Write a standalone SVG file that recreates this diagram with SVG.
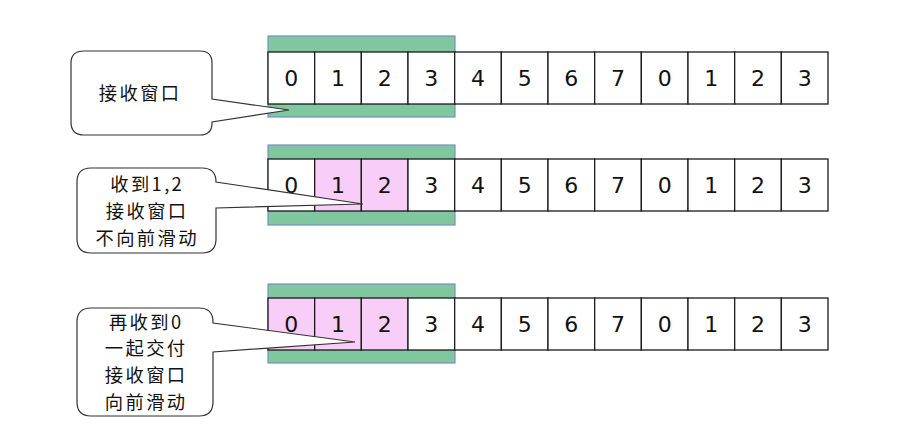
<svg xmlns="http://www.w3.org/2000/svg" width="906" height="444" viewBox="0 0 906 444">
<style>
.win{fill:#80c69e;stroke:#7b8fc4;stroke-width:1.2}
.cell{fill:#ffffff;stroke:#1a1a1a;stroke-width:1.3}
.pk{fill:#f8cdf8}
.num{font-family:"DejaVu Sans","Liberation Sans",sans-serif;font-size:22px;fill:#111;text-anchor:middle;dominant-baseline:central}
.call{fill:#ffffff;stroke:#333;stroke-width:1.2}
.lbl{font-family:"Noto Sans CJK SC","Noto Sans",sans-serif;font-size:18.3px;letter-spacing:2.4px;fill:#111;text-anchor:middle}
</style>
<rect width="906" height="444" fill="#ffffff"/>
<g id="row1">
<rect class="win" x="268" y="36" width="187" height="81"/>
<rect class="cell" x="268" y="52" width="46.67" height="52"/>
<rect class="cell" x="314.67" y="52" width="46.67" height="52"/>
<rect class="cell" x="361.33" y="52" width="46.67" height="52"/>
<rect class="cell" x="408" y="52" width="46.67" height="52"/>
<rect class="cell" x="454.67" y="52" width="46.67" height="52"/>
<rect class="cell" x="501.33" y="52" width="46.67" height="52"/>
<rect class="cell" x="548" y="52" width="46.67" height="52"/>
<rect class="cell" x="594.67" y="52" width="46.67" height="52"/>
<rect class="cell" x="641.33" y="52" width="46.67" height="52"/>
<rect class="cell" x="688" y="52" width="46.67" height="52"/>
<rect class="cell" x="734.67" y="52" width="46.67" height="52"/>
<rect class="cell" x="781.33" y="52" width="46.67" height="52"/>
<text class="num" x="291.3" y="78">0</text>
<text class="num" x="338" y="78">1</text>
<text class="num" x="384.7" y="78">2</text>
<text class="num" x="431.3" y="78">3</text>
<text class="num" x="478" y="78">4</text>
<text class="num" x="524.7" y="78">5</text>
<text class="num" x="571.3" y="78">6</text>
<text class="num" x="618" y="78">7</text>
<text class="num" x="664.7" y="78">0</text>
<text class="num" x="711.3" y="78">1</text>
<text class="num" x="758" y="78">2</text>
<text class="num" x="804.7" y="78">3</text>
</g>
<g id="row2">
<rect class="win" x="268" y="145" width="187" height="80"/>
<rect class="cell" x="268" y="159" width="46.67" height="52"/>
<rect class="cell pk" x="314.67" y="159" width="46.67" height="52"/>
<rect class="cell pk" x="361.33" y="159" width="46.67" height="52"/>
<rect class="cell" x="408" y="159" width="46.67" height="52"/>
<rect class="cell" x="454.67" y="159" width="46.67" height="52"/>
<rect class="cell" x="501.33" y="159" width="46.67" height="52"/>
<rect class="cell" x="548" y="159" width="46.67" height="52"/>
<rect class="cell" x="594.67" y="159" width="46.67" height="52"/>
<rect class="cell" x="641.33" y="159" width="46.67" height="52"/>
<rect class="cell" x="688" y="159" width="46.67" height="52"/>
<rect class="cell" x="734.67" y="159" width="46.67" height="52"/>
<rect class="cell" x="781.33" y="159" width="46.67" height="52"/>
<text class="num" x="291.3" y="185">0</text>
<text class="num" x="338" y="185">1</text>
<text class="num" x="384.7" y="185">2</text>
<text class="num" x="431.3" y="185">3</text>
<text class="num" x="478" y="185">4</text>
<text class="num" x="524.7" y="185">5</text>
<text class="num" x="571.3" y="185">6</text>
<text class="num" x="618" y="185">7</text>
<text class="num" x="664.7" y="185">0</text>
<text class="num" x="711.3" y="185">1</text>
<text class="num" x="758" y="185">2</text>
<text class="num" x="804.7" y="185">3</text>
</g>
<g id="row3">
<rect class="win" x="268" y="284" width="187" height="79"/>
<rect class="cell pk" x="268" y="298" width="46.67" height="52"/>
<rect class="cell pk" x="314.67" y="298" width="46.67" height="52"/>
<rect class="cell pk" x="361.33" y="298" width="46.67" height="52"/>
<rect class="cell" x="408" y="298" width="46.67" height="52"/>
<rect class="cell" x="454.67" y="298" width="46.67" height="52"/>
<rect class="cell" x="501.33" y="298" width="46.67" height="52"/>
<rect class="cell" x="548" y="298" width="46.67" height="52"/>
<rect class="cell" x="594.67" y="298" width="46.67" height="52"/>
<rect class="cell" x="641.33" y="298" width="46.67" height="52"/>
<rect class="cell" x="688" y="298" width="46.67" height="52"/>
<rect class="cell" x="734.67" y="298" width="46.67" height="52"/>
<rect class="cell" x="781.33" y="298" width="46.67" height="52"/>
<text class="num" x="291.3" y="324">0</text>
<text class="num" x="338" y="324">1</text>
<text class="num" x="384.7" y="324">2</text>
<text class="num" x="431.3" y="324">3</text>
<text class="num" x="478" y="324">4</text>
<text class="num" x="524.7" y="324">5</text>
<text class="num" x="571.3" y="324">6</text>
<text class="num" x="618" y="324">7</text>
<text class="num" x="664.7" y="324">0</text>
<text class="num" x="711.3" y="324">1</text>
<text class="num" x="758" y="324">2</text>
<text class="num" x="804.7" y="324">3</text>
</g>
<g id="callout1">
<path class="call" d="M84,51 H200 Q212,51 212,63 V99 L289,110 L212,122 V123 Q212,135 200,135 H84 Q71,135 71,122 V63 Q71,51 84,51 Z"/>
<text class="lbl" x="140.2" y="100">接收窗口</text>
</g>
<g id="callout2">
<path class="call" d="M91,168 H202 Q216,168 216,182 L363,204 L216,208 V239 Q216,253 202,253 H91 Q77,253 77,239 V182 Q77,168 91,168 Z"/>
<text class="lbl" x="147.2" y="191"><tspan x="147.2">收到1,2</tspan><tspan x="147.2" dy="26.8">接收窗口</tspan><tspan x="147.2" dy="26.8">不向前滑动</tspan></text>
</g>
<g id="callout3">
<path class="call" d="M91,308 H199 Q213,308 213,322 V323 L355,342 L213,352 V402 Q213,416 199,416 H91 Q77,416 77,402 V322 Q77,308 91,308 Z"/>
<text class="lbl" x="146.2" y="328.7"><tspan x="146.2">再收到0</tspan><tspan x="146.2" dy="26.7">一起交付</tspan><tspan x="146.2" dy="26.7">接收窗口</tspan><tspan x="146.2" dy="26.7">向前滑动</tspan></text>
</g>
</svg>
